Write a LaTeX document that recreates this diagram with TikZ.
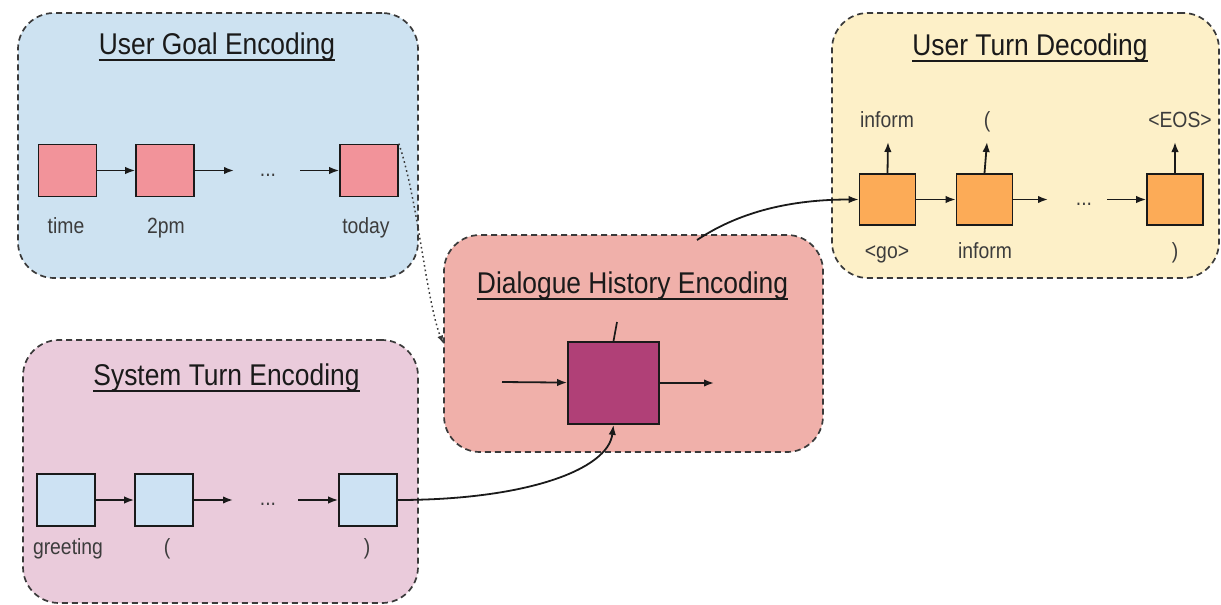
\documentclass[tikz,border=0pt]{standalone}
\usepackage{fontspec}
\setmainfont{Liberation Sans}
\usepackage{graphicx}
\usetikzlibrary{arrows.meta}

% narrow the Arial-like face a little
\newcommand\nar[1]{\scalebox{0.88}[1]{#1}}

\definecolor{goalbg}{HTML}{CDE2F1}
\definecolor{goalcell}{HTML}{F2939A}
\definecolor{sysbg}{HTML}{EACBDB}
\definecolor{syscell}{HTML}{CDE2F3}
\definecolor{histbg}{HTML}{F0B0AA}
\definecolor{histcell}{HTML}{B04077}
\definecolor{decbg}{HTML}{FDF0C8}
\definecolor{deccell}{HTML}{FCAB57}
\definecolor{edge}{HTML}{3A3A3A}
\definecolor{ink}{HTML}{1A1A1A}

\begin{document}
\begin{tikzpicture}[x=1pt,y=-1pt,
  panel/.style={draw=edge, line width=1.7pt, dash pattern=on 6pt off 4pt,
    rounded corners=36pt, inner sep=0pt},
  cell/.style={draw=ink, line width=1.7pt, minimum width=58pt,
    minimum height=52pt, inner sep=0pt},
  dcell/.style={cell, fill=deccell, minimum width=56pt, minimum height=51pt},
  title/.style={font=\fontsize{30}{30}\selectfont, text=ink, inner sep=0pt, anchor=base},
  lbl/.style={font=\fontsize{22}{22}\selectfont, text=ink!85, inner sep=0pt, anchor=base},
  uline/.style={line width=2pt, draw=ink},
  arr/.style={-{Latex[length=10pt,width=7.5pt]}, line width=1.8pt, draw=ink},
]
\useasboundingbox (0,0) rectangle (1221,605);

% ---- panels ----
\node[panel, fill=goalbg, minimum width=400pt, minimum height=265pt] (goal) at (218,145.5) {};
\node[panel, fill=sysbg, minimum width=395pt, minimum height=263pt] (sys) at (220.5,471.5) {};
\node[panel, fill=histbg, minimum width=379pt, minimum height=217pt] (hist) at (633.5,343.5) {};
\node[panel, fill=decbg, minimum width=387pt, minimum height=265pt] (dec) at (1025.5,145.5) {};

% ---- titles ----
\node[title] (goalT) at (217,54) {\nar{User Goal Encoding}};
\node[title] (sysT) at (226.5,385) {\nar{System Turn Encoding}};
\node[title] (histT) at (632.5,293) {\nar{Dialogue History Encoding}};
\node[title] (decT) at (1030,55) {\nar{User Turn Decoding}};
\foreach \t in {goalT,sysT,histT,decT}
  \draw[uline] ([yshift=-5.5pt]\t.base west) -- ([yshift=-5.5pt]\t.base east);

% ---- user goal encoder ----
\node[cell, fill=goalcell] (g1) at (67.5,170.5) {};
\node[cell, fill=goalcell] (g2) at (165,170.5) {};
\node[cell, fill=goalcell] (g3) at (369,170.5) {};
\coordinate (g2o) at (234,170.5);
\coordinate (g3i) at (300,170.5);
\draw[arr] (g1) -- (g2);
\draw[arr] (g2) -- (g2o);
\draw[arr] (g3i) -- (g3);
\node[lbl] (gdots) at (268,176) {\nar{...}};
\node[lbl] (gl1) at (66,233) {\nar{time}};
\node[lbl] (gl2) at (166,233) {\nar{2pm}};
\node[lbl] (gl3) at (366,233) {\nar{today}};

% ---- system turn encoder ----
\node[cell, fill=syscell] (s1) at (66,500) {};
\node[cell, fill=syscell] (s2) at (164,500) {};
\node[cell, fill=syscell] (s3) at (368,500) {};
\coordinate (s2o) at (233,500);
\coordinate (s3i) at (298,500);
\draw[arr] (s1) -- (s2);
\draw[arr] (s2) -- (s2o);
\draw[arr] (s3i) -- (s3);
\node[lbl] (sdots) at (268,505) {\nar{...}};
\node[lbl] (sl1) at (68,554) {\nar{greeting}};
\node[lbl] (sl2) at (167,554) {\nar{(}};
\node[lbl] (sl3) at (367,554) {\nar{)}};

% ---- dialogue history encoder ----
\node[cell, fill=histcell, minimum width=91pt, minimum height=82pt] (h) at (613.5,383) {};
\coordinate (hin) at (502,382);
\coordinate (hout) at (714,383);
\coordinate (htop) at (617,322);
\draw[arr] (hin) -- (h);
\draw[arr] (h) -- (hout);
\draw[line width=1.7pt, draw=ink] (h.north) -- (htop);

% ---- user turn decoder ----
\node[dcell] (d1) at (887.5,199.5) {};
\node[dcell] (d2) at (984.5,199.5) {};
\node[dcell] (d3) at (1175,199.5) {};
\coordinate (d2o) at (1048,199.5);
\coordinate (d3i) at (1107,199.5);
\draw[arr] (d1) -- (d2);
\draw[arr] (d2) -- (d2o);
\draw[arr] (d3i) -- (d3);
\node[lbl] (ddots) at (1084,205) {\nar{...}};
\coordinate (d1u) at (888,142);
\coordinate (d2u) at (987,142);
\coordinate (d3u) at (1175,142);
\draw[arr] (d1.north) -- (d1u);
\draw[arr] (d2.north) -- (d2u);
\draw[arr] (d3.north) -- (d3u);
\node[lbl] (do1) at (887,127) {\nar{inform}};
\node[lbl] (do2) at (987,127) {\nar{(}};
\node[lbl] (do3) at (1180,127) {\nar{<EOS>}};
\node[lbl] (di1) at (887,258) {\nar{<go>}};
\node[lbl] (di2) at (985,258) {\nar{inform}};
\node[lbl] (di3) at (1175,258) {\nar{)}};

% ---- links between modules ----
\draw[line width=1.5pt, draw=edge, dash pattern=on 1.6pt off 3pt,
      -{Latex[length=8pt,width=6pt]}]
  (g3.north east) .. controls (418,200) and (426,300) .. (hist.west);
\draw[arr] (s3.east) .. controls (525,500) and (608,470) .. (h.south);
\coordinate (histOut) at (697,240);
\draw[arr] (histOut) .. controls (745,208) and (800,199.5) .. (d1.west);
\end{tikzpicture}
\end{document}
